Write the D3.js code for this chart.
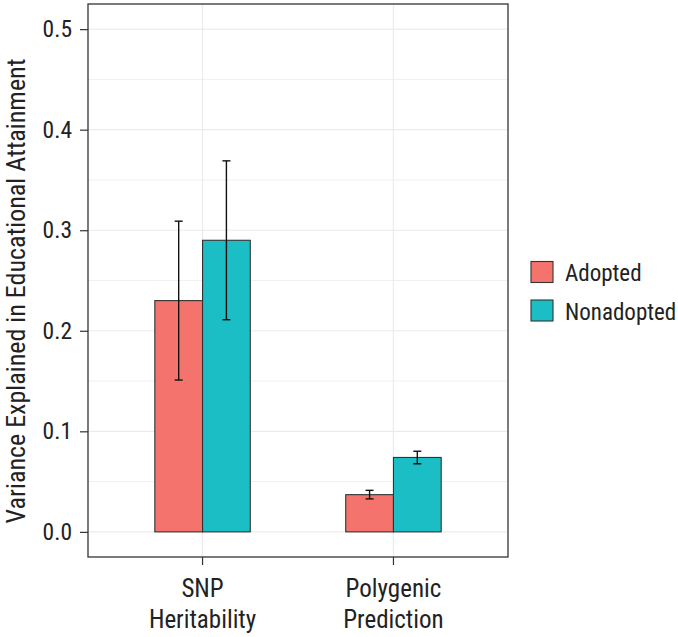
<!DOCTYPE html>
<html><head><meta charset="utf-8">
<script src="https://cdn.jsdelivr.net/npm/d3@7"></script>
<style>
body{margin:0;background:#fff;}
text{font-family:"Roboto Condensed","Liberation Sans Narrow",sans-serif;fill:#222;}
</style></head>
<body><svg id="c" width="678" height="637"></svg>
<script>
const categories = ["SNP\nHeritability", "Polygenic\nPrediction"];
const groups = ["Adopted", "Nonadopted"];
const adoptedValues = [0.23, 0.037];
const adoptedLower = [0.151, 0.0328];
const adoptedUpper = [0.309, 0.0413];
const nonadoptedValues = [0.29, 0.074];
const nonadoptedLower = [0.211, 0.0677];
const nonadoptedUpper = [0.369, 0.0802];
const yTicks = [0, 0.1, 0.2, 0.3, 0.4, 0.5];
const yMinor = [0.05, 0.15, 0.25, 0.35, 0.45];
const colors = ["#F4746D", "#1BBEC4"];

const svg = d3.select("#c");
const L = 88, R = 508, T = 4, B = 557;

const y = d3.scaleLinear().domain([-0.025, 0.525]).range([B, T]);
// ggplot-style discrete positions 1..n with 0.6 expansion
const xc = d3.scaleLinear().domain([0.4, 2.6]).range([L, R]);
const pos = c => xc(categories.indexOf(c) + 1);
const unit = xc(1) - xc(0);
const barW = 0.25 * unit;

// grid
const g = svg.append("g");
g.selectAll(".minor").data(yMinor).join("line")
  .attr("x1", L).attr("x2", R).attr("y1", d => y(d)).attr("y2", d => y(d))
  .attr("stroke", "#f0f0f0").attr("stroke-width", 1);
g.selectAll(".major").data(yTicks).join("line")
  .attr("x1", L).attr("x2", R).attr("y1", d => y(d)).attr("y2", d => y(d))
  .attr("stroke", "#ebebeb").attr("stroke-width", 1.2);
g.selectAll(".vmajor").data(categories).join("line")
  .attr("x1", d => pos(d)).attr("x2", d => pos(d)).attr("y1", T).attr("y2", B)
  .attr("stroke", "#ebebeb").attr("stroke-width", 1.2);

// bars
const series = [
  {vals: adoptedValues, lo: adoptedLower, hi: adoptedUpper, off: -1},
  {vals: nonadoptedValues, lo: nonadoptedLower, hi: nonadoptedUpper, off: 0}
];
series.forEach((s, si) => {
  svg.append("g").selectAll("rect").data(categories).join("rect")
    .attr("x", (c) => pos(c) + s.off * barW)
    .attr("width", barW)
    .attr("y", (c, i) => y(s.vals[i]))
    .attr("height", (c, i) => y(0) - y(s.vals[i]))
    .attr("fill", colors[si]).attr("stroke", "#333").attr("stroke-width", 1.1);
});
series.forEach((s) => {
  const eg = svg.append("g").attr("stroke", "#111").attr("stroke-width", 1.4);
  categories.forEach((c, i) => {
    const cx = pos(c) + s.off * barW + barW / 2;
    eg.append("line").attr("x1", cx).attr("x2", cx).attr("y1", y(s.lo[i])).attr("y2", y(s.hi[i]));
    [s.lo[i], s.hi[i]].forEach(v => eg.append("line").attr("x1", cx - 4).attr("x2", cx + 4).attr("y1", y(v)).attr("y2", y(v)));
  });
});

// border
svg.append("rect").attr("x", L).attr("y", T).attr("width", R - L).attr("height", B - T)
  .attr("fill", "none").attr("stroke", "#333").attr("stroke-width", 1.3);

// y axis
const ya = svg.append("g").attr("transform", `translate(${L},0)`)
  .call(d3.axisLeft(y).tickValues(yTicks).tickFormat(d3.format(".1f")).tickSize(8).tickPadding(8));
ya.select(".domain").remove();
ya.selectAll(".tick line").attr("stroke", "#333").attr("stroke-width", 1.2);
ya.selectAll(".tick text").style("font-size", "23.5px").attr("fill", "#222");

// x axis
const xa = svg.append("g").attr("transform", `translate(0,${B})`);
categories.forEach(c => {
  xa.append("line").attr("x1", pos(c)).attr("x2", pos(c)).attr("y1", 0).attr("y2", 8)
    .attr("stroke", "#333").attr("stroke-width", 1.2);
  const t = xa.append("text").attr("text-anchor", "middle").style("font-size", "25px");
  c.split("\n").forEach((ln, k) => t.append("tspan").attr("x", pos(c)).attr("y", 39.7 + k * 31.3).text(ln));
});

// y title
svg.append("text").attr("transform", `translate(25,291) rotate(-90)`)
  .attr("text-anchor", "middle").style("font-size", "26px")
  .text("Variance Explained in Educational Attainment");

// legend
const lg = svg.append("g");
groups.forEach((gname, i) => {
  lg.append("rect").attr("x", 531).attr("y", 261.5 + i * 38.5).attr("width", 22).attr("height", 21)
    .attr("fill", colors[i]).attr("stroke", "#333").attr("stroke-width", 1.1);
  lg.append("text").attr("x", 565).attr("y", 281 + i * 39).style("font-size", "23px").text(gname);
});
</script></body></html>
